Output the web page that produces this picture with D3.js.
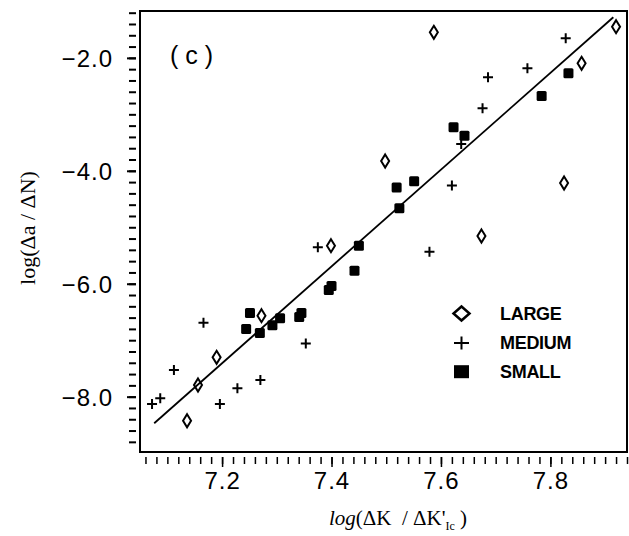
<!DOCTYPE html>
<html>
<head>
<meta charset="utf-8">
<script src="https://cdn.jsdelivr.net/npm/d3@7"></script>
<style>
  body { margin: 0; background: #fff; }
  svg { display: block; }
</style>
</head>
<body>
<svg id="chart" width="629" height="536"></svg>
<script>
// Fatigue crack-growth rate against normalised stress-intensity range,
// for large, medium and small specimens, with the fitted regression line.

const largeX  = [7.587, 7.920, 7.857, 7.498, 7.825, 7.399, 7.272, 7.190, 7.156, 7.136, 7.674];
const largeY  = [-1.547, -1.448, -2.096, -3.826, -4.216, -5.326, -6.566, -7.303, -7.793, -8.426, -5.155];

const mediumX = [7.828, 7.758, 7.686, 7.676, 7.637, 7.620, 7.375, 7.353, 7.166, 7.112, 7.270, 7.228, 7.196, 7.087, 7.072, 7.579];
const mediumY = [-1.653, -2.185, -2.344, -2.893, -3.525, -4.260, -5.355, -7.058, -6.690, -7.528, -7.705, -7.852, -8.130, -8.029, -8.130, -5.433];

const smallX  = [7.833, 7.784, 7.623, 7.643, 7.519, 7.551, 7.524, 7.450, 7.442, 7.395, 7.400, 7.341, 7.345, 7.306, 7.292, 7.269, 7.244, 7.251];
const smallY  = [-2.273, -2.675, -3.230, -3.378, -4.296, -4.186, -4.664, -5.326, -5.769, -6.111, -6.040, -6.589, -6.518, -6.612, -6.736, -6.873, -6.802, -6.518];

// end points of the regression line
const fitX = [7.076, 7.915];
const fitY = [-8.47, -1.28];

const xMajorTicks = [7.2, 7.4, 7.6, 7.8];
const yMajorTicks = [-8, -6, -4, -2];
const xMinorTicks = d3.range(353, 398).map(i => i / 50);   // every 0.02
const yMinorTicks = d3.range(-44, -5).map(i => i / 5);     // every 0.2

const seriesNames = ["LARGE", "MEDIUM", "SMALL"];
const panelLabel = "( c )";

const svg = d3.select("#chart");

const x = d3.scaleLinear().domain([7.05, 7.94]).range([140, 627]);
const y = d3.scaleLinear().domain([-8.98, -1.17]).range([452, 11]);

// plot frame
svg.append("rect")
  .attr("x", x.range()[0]).attr("y", y.range()[1])
  .attr("width", x.range()[1] - x.range()[0])
  .attr("height", y.range()[0] - y.range()[1])
  .attr("fill", "none").attr("stroke", "#000").attr("stroke-width", 2);

// x axis: detached tick row below the frame
const xAxisY = 457;
const gxMinor = svg.append("g").attr("transform", `translate(0,${xAxisY})`)
  .call(d3.axisBottom(x).tickValues(xMinorTicks).tickSize(7).tickFormat(""));
const gxMajor = svg.append("g").attr("transform", `translate(0,${xAxisY})`)
  .call(d3.axisBottom(x).tickValues(xMajorTicks).tickSize(10).tickPadding(5).tickFormat(d3.format(".1f")));
[gxMinor, gxMajor].forEach(g => {
  g.select(".domain").remove();
  g.selectAll(".tick line").attr("stroke", "#000").attr("stroke-width", 1.5);
});
gxMajor.selectAll(".tick text")
  .attr("font-family", "'Liberation Sans', Arial, sans-serif")
  .attr("font-size", 24).attr("fill", "#000").attr("letter-spacing", 1);

// y axis: detached tick column left of the frame
const yAxisX = 136;
const gyMinor = svg.append("g").attr("transform", `translate(${yAxisX},0)`)
  .call(d3.axisLeft(y).tickValues(yMinorTicks).tickSize(7).tickFormat(""));
const gyMajor = svg.append("g").attr("transform", `translate(${yAxisX},0)`)
  .call(d3.axisLeft(y).tickValues(yMajorTicks).tickSize(9).tickPadding(14).tickFormat(d3.format(".1f")));
[gyMinor, gyMajor].forEach(g => {
  g.select(".domain").remove();
  g.selectAll(".tick line").attr("stroke", "#000").attr("stroke-width", 2);
});
gyMajor.selectAll(".tick text")
  .attr("font-family", "'Liberation Sans', Arial, sans-serif")
  .attr("font-size", 24).attr("fill", "#000").attr("letter-spacing", 1)
  .attr("dy", "0.38em");

// axis titles
svg.append("text")
  .attr("transform", "translate(35,228) rotate(-90)")
  .attr("text-anchor", "middle")
  .attr("font-family", "'Liberation Serif', 'Times New Roman', serif")
  .attr("font-size", 22).attr("fill", "#000")
  .text("log(\u0394a / \u0394N)");

const xTitle = svg.append("text")
  .attr("x", 398).attr("y", 525)
  .attr("text-anchor", "middle")
  .attr("font-family", "'Liberation Serif', 'Times New Roman', serif")
  .attr("font-size", 21).attr("fill", "#000");
xTitle.append("tspan").attr("font-style", "italic").text("log");
xTitle.append("tspan").text("(\u0394K\u00A0\u00A0/\u00A0\u0394K'");
xTitle.append("tspan").attr("font-size", 12).attr("dy", 5).text("Ic");
xTitle.append("tspan").attr("dy", -5).text("\u00A0)");

// panel label
svg.append("text")
  .attr("x", 170).attr("y", 64)
  .attr("font-family", "'Liberation Sans', Arial, sans-serif")
  .attr("font-size", 25).attr("fill", "#000")
  .attr("xml:space", "preserve")
  .text(panelLabel);

// marker shapes
const diamondPath = (w, h) => `M0,${-h / 2}L${w / 2},0L0,${h / 2}L${-w / 2},0Z`;
const plusPath = (w, h) => `M${-w / 2},0H${w / 2}M0,${-h / 2}V${h / 2}`;

// regression line
svg.append("path")
  .datum(d3.zip(fitX, fitY))
  .attr("d", d3.line().x(d => x(d[0])).y(d => y(d[1])))
  .attr("fill", "none").attr("stroke", "#000").attr("stroke-width", 1.8);

// small specimens: filled squares
svg.append("g").selectAll("rect")
  .data(d3.zip(smallX, smallY)).join("rect")
  .attr("x", d => x(d[0]) - 5).attr("y", d => y(d[1]) - 5)
  .attr("width", 10).attr("height", 10).attr("rx", 1.5)
  .attr("fill", "#000");

// medium specimens: plus signs
svg.append("g").selectAll("path")
  .data(d3.zip(mediumX, mediumY)).join("path")
  .attr("transform", d => `translate(${x(d[0])},${y(d[1])})`)
  .attr("d", plusPath(10, 10))
  .attr("fill", "none").attr("stroke", "#000").attr("stroke-width", 2);

// large specimens: open diamonds
svg.append("g").selectAll("path")
  .data(d3.zip(largeX, largeY)).join("path")
  .attr("transform", d => `translate(${x(d[0])},${y(d[1])})`)
  .attr("d", diamondPath(8, 13))
  .attr("fill", "none").attr("stroke", "#000").attr("stroke-width", 2);

// legend
const legend = svg.append("g").attr("transform", "translate(461.5,0)");
const legendRows = [313.5, 343, 371.7];
legend.append("path")
  .attr("transform", `translate(0,${legendRows[0]})`)
  .attr("d", diamondPath(16, 14))
  .attr("fill", "#fff").attr("stroke", "#000").attr("stroke-width", 2.5);
legend.append("path")
  .attr("transform", `translate(0,${legendRows[1]})`)
  .attr("d", plusPath(15, 13))
  .attr("fill", "none").attr("stroke", "#000").attr("stroke-width", 2);
legend.append("rect")
  .attr("x", -7.5).attr("y", legendRows[2] - 6.5)
  .attr("width", 15).attr("height", 13)
  .attr("fill", "#000");
legend.selectAll("text.lbl")
  .data(seriesNames).join("text")
  .attr("class", "lbl")
  .attr("x", 38.5)
  .attr("y", (d, i) => legendRows[i] + 6)
  .attr("font-family", "'Liberation Sans', Arial, sans-serif")
  .attr("font-weight", "bold").attr("font-size", 18)
  .attr("letter-spacing", -0.3)
  .attr("fill", "#000")
  .text(d => d);
</script>
</body>
</html>
